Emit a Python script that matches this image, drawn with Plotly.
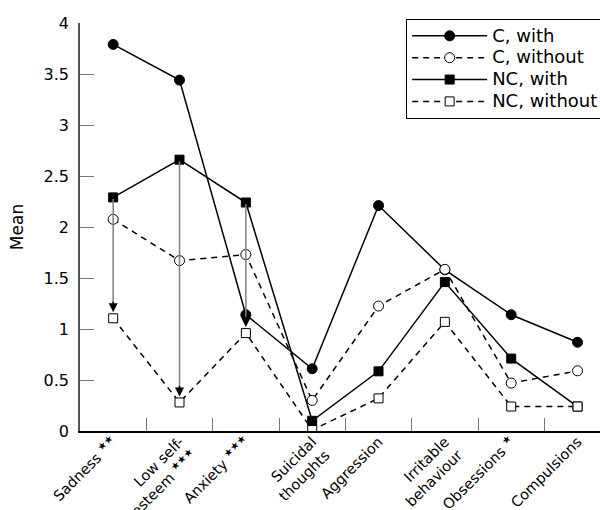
import plotly.graph_objects as go

categories = ["Sadness <sup>★★</sup>", "Low self-<br>esteem <sup>★★★</sup>", "Anxiety <sup>★★★</sup>",
              "Suicidal<br>thoughts", "Aggression", "Irritable<br>behaviour",
              "Obsessions <sup>★</sup>", "Compulsions"]
c_with = [3.79, 3.44, 1.14, 0.61, 2.21, 1.58, 1.14, 0.87]
c_without = [2.075, 1.67, 1.73, 0.30, 1.225, 1.585, 0.47, 0.59]
nc_with = [2.29, 2.66, 2.24, 0.10, 0.585, 1.46, 0.71, 0.24]
nc_without = [1.105, 0.28, 0.96, 0.01, 0.32, 1.07, 0.24, 0.24]
arrow_idx = [0, 1, 2]
y_ticks = [0, 0.5, 1, 1.5, 2, 2.5, 3, 3.5, 4]

FONT = "DejaVu Sans"

fig = go.Figure()
series = [
    ("C, with", c_with, "solid", "circle", "black", 10),
    ("C, without", c_without, "6px,5px", "circle", "white", 10),
    ("NC, with", nc_with, "solid", "square", "black", 9),
    ("NC, without", nc_without, "6px,5px", "square", "white", 9),
]
for name, vals, dash, sym, fill, sz in series:
    fig.add_trace(go.Scatter(
        x=categories, y=vals, name="<span style='font-size:18px'>%s</span>" % name,
        mode="lines+markers",
        line=dict(color="black", width=1.5, dash=dash),
        marker=dict(symbol=sym, size=sz, color=fill,
                    line=dict(color="black", width=1)),
    ))

for i in arrow_idx:
    fig.add_annotation(x=categories[i], y=nc_without[i], ax=categories[i], ay=nc_with[i],
                       xref="x", yref="y", axref="x", ayref="y", text="",
                       showarrow=True, arrowhead=0, arrowwidth=1.5,
                       arrowcolor="#808080", standoff=12)
    fig.add_annotation(x=categories[i], y=nc_without[i], ax=0, ay=-18,
                       xref="x", yref="y", text="",
                       showarrow=True, arrowhead=2, arrowsize=1.2, arrowwidth=1.5,
                       arrowcolor="black", standoff=6)

fig.update_layout(
    width=620, height=510,
    margin=dict(l=80, r=0, t=23, b=79),
    paper_bgcolor="white", plot_bgcolor="white",
    font=dict(family=FONT, size=16, color="black"),
    showlegend=True,
    legend=dict(x=0.604, y=1.01, xanchor="left", yanchor="top",
                bgcolor="white", bordercolor="black", borderwidth=1,
                font=dict(size=14.5, family=FONT), itemwidth=75,
                tracegroupgap=0),
)
fig.update_xaxes(
    type="category", range=[-0.5, 7.64], automargin=False,
    tickson="boundaries", ticks="inside", ticklen=13, tickcolor="#777777",
    tickangle=-45, showline=True, linecolor="black", linewidth=1.5,
    showgrid=False, zeroline=False, tickfont=dict(size=14.5),
    ticklabelstandoff=-5,
)
fig.update_yaxes(
    range=[0, 4], tickvals=y_ticks, ticks="inside", ticklen=14, tickcolor="#777777",
    automargin=False,
    showline=True, linecolor="#555555", linewidth=1.5, showgrid=False, zeroline=False,
    title=dict(text="Mean", font=dict(size=17), standoff=16), tickfont=dict(size=16),
    ticklabelstandoff=6,
)

fig.write_html(
    "out.html",
    config={"displayModeBar": False},
    post_script=("document.body.style.margin='0';"
                 "document.documentElement.style.overflow='hidden';"
                 "document.body.style.overflow='hidden';"),
)
